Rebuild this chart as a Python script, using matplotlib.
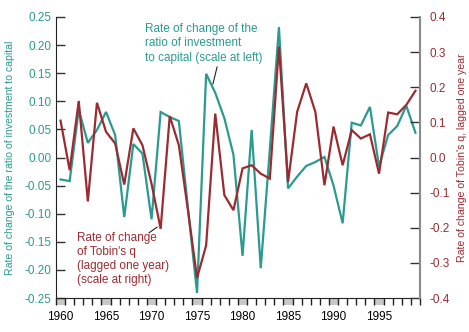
import matplotlib
matplotlib.use("Agg")
import matplotlib.pyplot as plt
import matplotlib.transforms as mtransforms
from matplotlib.patches import Rectangle

plt.rcParams["font.family"] = ["Liberation Sans", "DejaVu Sans"]

TEAL = "#2b9a90"
RED = "#9a2c31"

years = list(range(1960, 2000))
invest_rate = [-0.039, -0.042, 0.085, 0.026, 0.049, 0.081, 0.040, -0.106, 0.024, 0.007,
               -0.110, 0.081, 0.072, 0.065, -0.090, -0.241, 0.149, 0.115, 0.070, 0.005,
               -0.175, 0.049, -0.197, 0.015, 0.232, -0.055, -0.034, -0.015, -0.008, 0.001,
               -0.050, -0.117, 0.062, 0.057, 0.090, -0.016, 0.040, 0.056, 0.092, 0.044]
tobin_rate = [0.105, -0.036, 0.161, -0.125, 0.156, 0.073, 0.040, -0.077, 0.083, 0.035,
              -0.075, -0.203, 0.118, 0.035, -0.150, -0.343, -0.250, 0.125, -0.107, -0.150,
              -0.031, -0.022, -0.046, -0.060, 0.316, -0.070, 0.130, 0.211, 0.130, -0.079,
              0.088, -0.022, 0.078, 0.054, 0.066, -0.046, 0.128, 0.123, 0.150, 0.190]

left_ticks = [0.25, 0.20, 0.15, 0.10, 0.05, 0.00, -0.05, -0.10, -0.15, -0.20, -0.25]
right_ticks = [0.4, 0.3, 0.2, 0.1, 0.0, -0.1, -0.2, -0.3, -0.4]
year_labels = [1960, 1965, 1970, 1975, 1980, 1985, 1990, 1995]

fig, ax = plt.subplots(figsize=(4.69, 3.32), dpi=100)
fig.subplots_adjust(left=0.1194, right=0.8955, bottom=0.1024, top=0.9488)
ax2 = ax.twinx()

ax.plot(years, invest_rate, color=TEAL, lw=1.6, solid_joinstyle="miter")
ax2.plot(years, tobin_rate, color=RED, lw=1.6, solid_joinstyle="miter")

ax.set_xlim(1959.5, 1999.5)
ax.set_ylim(-0.25, 0.25)
ax2.set_ylim(-0.4, 0.4)

# spines
ax.spines["top"].set_visible(False)
ax2.spines["top"].set_visible(False)
ax2.spines["left"].set_visible(False)
ax2.spines["bottom"].set_visible(False)
ax.spines["right"].set_visible(False)
ax.spines["left"].set_color("#222222")
ax.spines["bottom"].set_color("#222222")
ax2.spines["right"].set_color("#8a8a8a")
ax2.spines["right"].set_linewidth(1.5)

# left axis
ax.set_yticks(left_ticks)
ax.set_yticklabels([f"{v:.2f}" for v in left_ticks])
ax.tick_params(axis="y", direction="in", length=6.5, width=1, color="#333333",
               labelcolor=TEAL, labelsize=8.5, pad=3)

# right axis
ax2.set_yticks(right_ticks)
ax2.set_yticklabels([f"{v:.1f}" for v in right_ticks])
ax2.tick_params(axis="y", direction="in", length=7, width=1, color="#333333",
                labelcolor=RED, labelsize=8.5, pad=7)

# bottom axis: labels at years, ticks between years
ax.set_xticks(year_labels)
ax.set_xticklabels([str(y) for y in year_labels])
ax.set_xticks([y - 0.5 for y in years] + [1999.5], minor=True)
ax.tick_params(axis="x", which="major", length=0, labelsize=8.5, pad=9)
ax.tick_params(axis="x", which="minor", direction="out", length=5, width=1, color="#222222")

trans = mtransforms.blended_transform_factory(ax.transData, ax.transAxes)
for y in year_labels:
    ax.add_patch(Rectangle((y - 0.5, -0.025), 1, 0.025, transform=trans,
                           facecolor="#c8c8c8", edgecolor="none", clip_on=False, zorder=0))

ax.set_ylabel("Rate of change of the ratio of investment to capital", color=TEAL, fontsize=7.6)
ax.yaxis.set_label_coords(-0.113, 0.5)
ax2.set_ylabel("Rate of change of Tobin's q, lagged one year", color=RED, fontsize=7.6)
ax2.yaxis.set_label_coords(1.102, 0.5)

ax.text(1969.3, 0.239, "Rate of change of the\nratio of investment\nto capital (scale at left)",
        color=TEAL, fontsize=8.5, va="top", ha="left", linespacing=1.25)
ax.plot([1977.2, 1976.75], [0.161, 0.131], color="#222222", lw=0.8)

ax.text(1961.8, -0.132, "Rate of change\nof Tobin's q\n(lagged one year)\n(scale at right)",
        color=RED, fontsize=8.5, va="top", ha="left", linespacing=1.25)
ax.plot([1969.72, 1970.6], [-0.134, -0.124], color="#222222", lw=0.8)

fig.savefig("out.png", dpi=100)
